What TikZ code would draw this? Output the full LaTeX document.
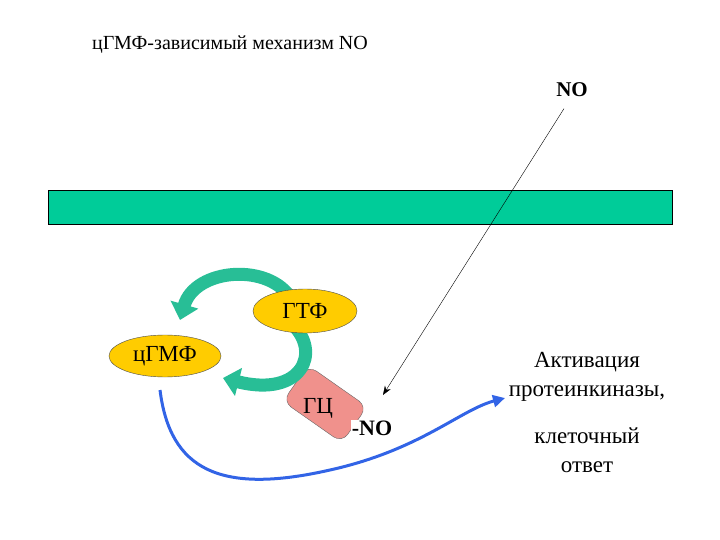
\documentclass[tikz,border=0pt]{standalone}
\usepackage{fontspec}
\setmainfont{Liberation Serif}
\usetikzlibrary{arrows.meta,shapes.geometric}
\definecolor{bar}{RGB}{0,204,153}
\definecolor{yel}{RGB}{255,204,0}
\definecolor{tealA}{RGB}{40,190,150}
\definecolor{tealD}{RGB}{20,120,100}
\definecolor{pinkA}{RGB}{240,145,140}
\definecolor{blueA}{RGB}{50,100,230}
\tikzset{
 ell/.style={ellipse,draw=black!70,fill=yel,inner sep=0pt,font=\fontsize{23}{26}\selectfont},
 lab/.style={font=\fontsize{23}{29}\selectfont,align=center},
 cyc/.style={line width=13pt,draw=tealA,-{Triangle[width=28pt,length=16pt]}},
}
\begin{document}
\begin{tikzpicture}[x=1pt,y=-1pt]
\useasboundingbox (0,0) rectangle (720,540);
\node[font=\fontsize{20}{24}\selectfont] (title) at (230,45) {цГМФ-зависимый механизм NO};
\node[font=\bfseries\fontsize{21}{24}\selectfont] (no) at (572,90) {NO};
\draw[fill=bar] (48,190) rectangle (672,224);
\node[draw=black!60,fill=pinkA,rounded corners=10pt,minimum width=72pt,minimum height=44pt,rotate=-35] (gc) at (325,404) {};
\node[lab] (gct) at (318,408) {ГЦ};
\node[font=\bfseries\fontsize{22}{25}\selectfont,fill=white,inner sep=1pt] (gcno) at (372,428) {-NO};
\draw[cyc] (292,300) .. controls (270,262) and (195,268) .. (180,320);
\draw[cyc] (292,324) .. controls (322,352) and (302,398) .. (223,378);
\node[ell,minimum width=104pt,minimum height=44pt] (gtf) at (305,311) {ГТФ};
\node[ell,minimum width=112pt,minimum height=42pt] (cgmf) at (165,356) {цГМФ};
\draw[-{Stealth[length=9pt]},black] (no.south) ++(-8,8) coordinate (s) -- (383,395) coordinate (e);
\draw[blueA,line width=3pt,-{Triangle[width=12pt,length=12pt]}] (160,390) .. controls (170,470) and (220,495) .. (330,470) .. controls (420,450) and (460,410) .. (505,398);
\node[lab] (act) at (587,377) {Активация\\протеинкиназы,};
\node[lab] (resp) at (587,450) {клеточный\\ответ};
\end{tikzpicture}
\end{document}
